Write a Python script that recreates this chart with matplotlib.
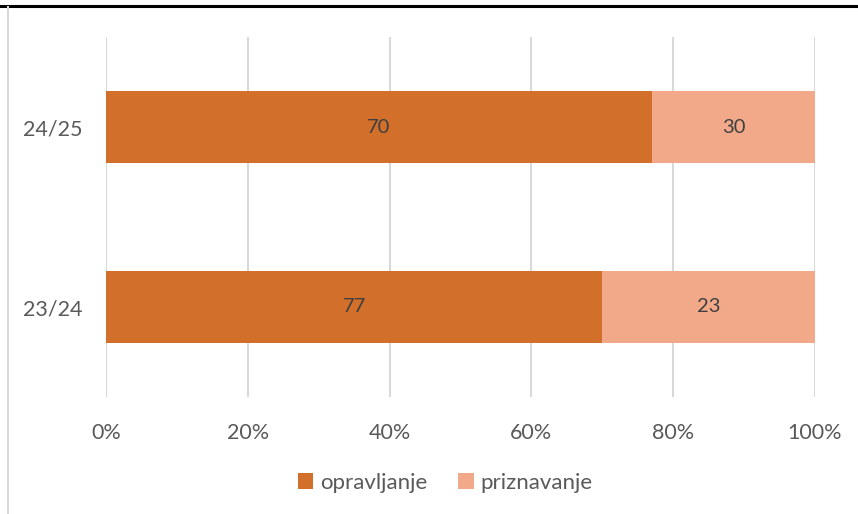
import matplotlib.pyplot as plt
from matplotlib.lines import Line2D

# ---------------------------
# Dane
# ---------------------------
years = ['23/24', '24/25']
opravljanje = [70, 77]          # dlugosc slupka (tak jak na wykresie)
priznavanje = [30, 23]
label_oprav = ['77', '70']      # etykiety jak w oryginale
label_prizn = ['23', '30']

c_dark = '#D26F2B'
c_light = '#F1A98A'
txt = '#595959'

plt.rcParams['font.family'] = ['Lato', 'DejaVu Sans']

fig = plt.figure(figsize=(8.58, 5.14), dpi=100)
ax = fig.add_axes([106/858, 1 - 397/514, 709/858, 360/514])

y = range(len(years))
ax.barh(y, opravljanje, height=0.4, color=c_dark, label='opravljanje', zorder=3)
ax.barh(y, priznavanje, left=opravljanje, height=0.4, color=c_light,
        label='priznavanje', zorder=3)

for i in y:
    ax.text(opravljanje[i] / 2, i, label_oprav[i], ha='center', va='center',
            fontsize=14.5, color='#404040', zorder=4)
    ax.text(opravljanje[i] + priznavanje[i] / 2, i, label_prizn[i], ha='center',
            va='center', fontsize=14.5, color='#404040', zorder=4)

ax.set_xlim(0, 100)
ax.set_ylim(-0.5, 1.5)
ax.set_xticks(range(0, 101, 20))
ax.set_xticklabels([f'{v}%' for v in range(0, 101, 20)])
ax.set_yticks(list(y))
ax.set_yticklabels(years)
ax.tick_params(length=0, labelsize=15.5, labelcolor=txt)
ax.tick_params(axis='x', pad=19)
ax.tick_params(axis='y', pad=17)
ax.grid(axis='x', color='#D9D9D9', linewidth=1.5, zorder=0)
for s in ax.spines.values():
    s.set_visible(False)

leg = fig.legend(loc='center', bbox_to_anchor=(0.519, 1 - 483/514), ncol=2,
                 frameon=False, fontsize=16, handlelength=0.7, handleheight=0.7,
                 handletextpad=0.3, columnspacing=1.4)
for t in leg.get_texts():
    t.set_color(txt)

# ramka
fig.add_artist(Line2D([0, 1], [1 - 5.5/514] * 2, color='black', linewidth=2.2))
fig.add_artist(Line2D([7.5/858] * 2, [0, 1 - 7/514], color='#D9D9D9', linewidth=1.5))

fig.savefig('out.png', dpi=100)
